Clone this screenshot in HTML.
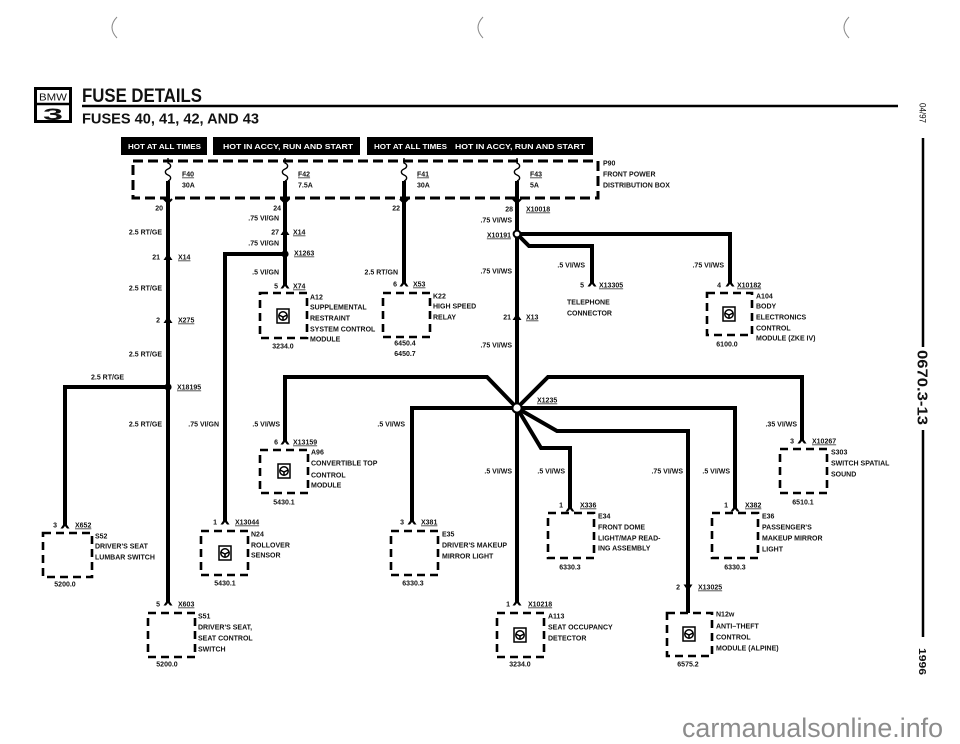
<!DOCTYPE html>
<html><head><meta charset="utf-8"><title>Fuse Details</title>
<style>
html,body{margin:0;padding:0;background:#fff;}
svg{display:block}
text{font-family:"Liberation Sans",Arial,sans-serif;font-weight:bold;font-size:7px;fill:#111}
.r{text-anchor:end}.m{text-anchor:middle}.u{text-decoration:underline}
.w{fill:none;stroke:#000;stroke-width:4;stroke-linejoin:miter;stroke-linecap:butt}
.d{fill:none;stroke:#000;stroke-width:2.6;stroke-dasharray:8 5}
.h{fill:#fff;font-size:7.5px}
.a{fill:#000}
</style></head><body>
<svg width="960" height="744" viewBox="0 0 960 744" xmlns="http://www.w3.org/2000/svg">
<!-- parentheses -->
<path d="M117,17 Q107,27.5 117,38" fill="none" stroke="#888" stroke-width="1"/>
<path d="M483,17 Q473,27.5 483,38" fill="none" stroke="#888" stroke-width="1"/>
<path d="M849,17 Q839,27.5 849,38" fill="none" stroke="#888" stroke-width="1"/>

<!-- logo -->
<rect x="35.5" y="88.5" width="35" height="33" fill="#fff" stroke="#000" stroke-width="3"/>
<line x1="35" y1="104" x2="71" y2="104" stroke="#000" stroke-width="2.5"/>
<text x="53" y="100.5" class="m" style="font-size:10px;font-weight:normal" textLength="28" lengthAdjust="spacingAndGlyphs">BMW</text>
<text x="53" y="120" class="m" style="font-size:17px;font-weight:900" textLength="20" lengthAdjust="spacingAndGlyphs">3</text>

<!-- titles -->
<text x="82" y="102" style="font-size:19.5px" textLength="120" lengthAdjust="spacingAndGlyphs">FUSE DETAILS</text>
<line x1="82" y1="106" x2="898" y2="106" stroke="#000" stroke-width="2.5"/>
<text x="82" y="123.5" style="font-size:14.5px" textLength="177" lengthAdjust="spacingAndGlyphs">FUSES 40, 41, 42, AND 43</text>

<!-- header bars -->
<rect x="121" y="137" width="86" height="18" fill="#000"/>
<rect x="213" y="137" width="147" height="18" fill="#000"/>
<rect x="367" y="137" width="226" height="18" fill="#000"/>
<text x="128" y="149" class="h" textLength="73" lengthAdjust="spacingAndGlyphs">HOT AT ALL TIMES</text>
<text x="223" y="149" class="h" textLength="130" lengthAdjust="spacingAndGlyphs">HOT IN ACCY, RUN AND START</text>
<text x="374" y="149" class="h" textLength="73" lengthAdjust="spacingAndGlyphs">HOT AT ALL TIMES</text>
<text x="455" y="149" class="h" textLength="130" lengthAdjust="spacingAndGlyphs">HOT IN ACCY, RUN AND START</text>

<!-- P90 box -->
<rect x="133" y="161" width="465" height="37" fill="none" stroke="#000" stroke-width="3" stroke-dasharray="10 5"/>

<!-- fuses -->
<g fill="none" stroke="#000" stroke-width="1.4">
<path d="M168,158 V163 c3.5,1.5 3.5,4.5 0,6 c-3.5,1.5 -3.5,4.5 0,6 c3.5,1.5 3.5,4.5 0,6"/>
<path d="M285,158 V163 c3.5,1.5 3.5,4.5 0,6 c-3.5,1.5 -3.5,4.5 0,6 c3.5,1.5 3.5,4.5 0,6"/>
<path d="M404,158 V163 c3.5,1.5 3.5,4.5 0,6 c-3.5,1.5 -3.5,4.5 0,6 c3.5,1.5 3.5,4.5 0,6"/>
<path d="M517,158 V163 c3.5,1.5 3.5,4.5 0,6 c-3.5,1.5 -3.5,4.5 0,6 c3.5,1.5 3.5,4.5 0,6"/>
</g>
<g fill="none" stroke="#000" stroke-width="2">
<path d="M164,199 L168,203 L172,199"/>
<path d="M281,199 L285,203 L289,199"/>
<path d="M400,199 L404,203 L408,199"/>
<path d="M513,199 L517,203 L521,199"/>
</g>

<!-- wires -->
<path class="w" d="M168,181 V602"/>
<path class="w" d="M168,387 H65 V525"/>
<path class="w" d="M285,181 V285"/>
<path class="w" d="M285,254 H225 V521"/>
<path class="w" d="M404,181 V283"/>
<path class="w" d="M517,181 V602"/>
<path class="w" d="M517,234 H730 V283"/>
<path class="w" d="M517,234 L529,246 H592 V283"/>
<path class="w" d="M517,408 L548,377 H802 V440"/>
<path class="w" d="M517,408 L487,377 H285 V441"/>
<path class="w" d="M517,408 H412 V521"/>
<path class="w" d="M517,408 H735 V508"/>
<path class="w" d="M517,408 L557,431 H688 V613"/>
<path class="w" d="M517,408 L541,448 H570 V508"/>

<!-- junctions -->
<circle cx="168" cy="387" r="3.6" fill="#000"/>
<circle cx="285" cy="254" r="3.6" fill="#000"/>
<circle cx="517" cy="234" r="3.4" fill="#fff" stroke="#000" stroke-width="2"/>
<circle cx="517" cy="408" r="4.6" fill="#fff" stroke="#000" stroke-width="2"/>

<!-- connector arrows (up) -->
<g class="a">
<polygon points="168,253.5 172.5,260 170,260 168,257.5 166,260 163.5,260"/>
<polygon points="168,316.5 172.5,323 170,323 168,320.5 166,323 163.5,323"/>
<polygon points="285,228.5 289.5,235 287,235 285,232.5 283,235 280.5,235"/>
<polygon points="517,313.5 521.5,320 519,320 517,317.5 515,320 512.5,320"/>
<polygon points="65,522 69.5,528.5 67,528.5 65,526 63,528.5 60.5,528.5"/>
<polygon points="168,599 172.5,605.5 170,605.5 168,603 166,605.5 163.5,605.5"/>
<polygon points="285,282 289.5,288.5 287,288.5 285,286 283,288.5 280.5,288.5"/>
<polygon points="225,518 229.5,524.5 227,524.5 225,522 223,524.5 220.5,524.5"/>
<polygon points="404,280 408.5,286.5 406,286.5 404,284 402,286.5 399.5,286.5"/>
<polygon points="517,599 521.5,605.5 519,605.5 517,603 515,605.5 512.5,605.5"/>
<polygon points="730,280 734.5,286.5 732,286.5 730,284 728,286.5 725.5,286.5"/>
<polygon points="592,280 596.5,286.5 594,286.5 592,284 590,286.5 587.5,286.5"/>
<polygon points="802,437 806.5,443.5 804,443.5 802,441 800,443.5 797.5,443.5"/>
<polygon points="285,438 289.5,444.5 287,444.5 285,442 283,444.5 280.5,444.5"/>
<polygon points="412,518 416.5,524.5 414,524.5 412,522 410,524.5 407.5,524.5"/>
<polygon points="735,505 739.5,511.5 737,511.5 735,509 733,511.5 730.5,511.5"/>
<polygon points="570,505 574.5,511.5 572,511.5 570,509 568,511.5 565.5,511.5"/>
<!-- down arrow -->
<polygon points="688,591 692.5,584.5 690,584.5 688,587 686,584.5 683.5,584.5"/>
</g>

<!-- component boxes -->
<rect class="d" x="260" y="293" width="47" height="45"/>
<rect class="d" x="383" y="293" width="47" height="44"/>
<rect class="d" x="707" y="293" width="45" height="42"/>
<rect class="d" x="43" y="533" width="49" height="44"/>
<rect class="d" x="201" y="531" width="47" height="44"/>
<rect class="d" x="260" y="450" width="48" height="43"/>
<rect class="d" x="391" y="531" width="47" height="44"/>
<rect class="d" x="548" y="513" width="46" height="45"/>
<rect class="d" x="712" y="513" width="46" height="45"/>
<rect class="d" x="780" y="449" width="47" height="44"/>
<rect class="d" x="148" y="613" width="47" height="44"/>
<rect class="d" x="497" y="613" width="47" height="44"/>
<rect class="d" x="667" y="613" width="45" height="43"/>

<!-- icons -->
<g fill="none" stroke="#000" stroke-width="1.5">
<g transform="translate(283,316)"><rect x="-6" y="-7" width="12" height="14" fill="#fff"/><circle r="4.2"/><path d="M-4,-1 L0,1 L4,-1 M0,1 V4"/></g>
<g transform="translate(729,314)"><rect x="-6" y="-7" width="12" height="14" fill="#fff"/><circle r="4.2"/><path d="M-4,-1 L0,1 L4,-1 M0,1 V4"/></g>
<g transform="translate(284,471)"><rect x="-6" y="-7" width="12" height="14" fill="#fff"/><circle r="4.2"/><path d="M-4,-1 L0,1 L4,-1 M0,1 V4"/></g>
<g transform="translate(225,553)"><rect x="-6" y="-7" width="12" height="14" fill="#fff"/><circle r="4.2"/><path d="M-4,-1 L0,1 L4,-1 M0,1 V4"/></g>
<g transform="translate(520,635)"><rect x="-6" y="-7" width="12" height="14" fill="#fff"/><circle r="4.2"/><path d="M-4,-1 L0,1 L4,-1 M0,1 V4"/></g>
<g transform="translate(689,634)"><rect x="-6" y="-7" width="12" height="14" fill="#fff"/><circle r="4.2"/><path d="M-4,-1 L0,1 L4,-1 M0,1 V4"/></g>
</g>

<!-- fuse labels -->
<text x="182" y="176.5" class="u">F40</text><text x="182" y="187.5">30A</text>
<text x="298" y="176.5" class="u">F42</text><text x="298" y="187.5">7.5A</text>
<text x="417" y="176.5" class="u">F41</text><text x="417" y="187.5">30A</text>
<text x="530" y="176.5" class="u">F43</text><text x="530" y="187.5">5A</text>
<text x="603" y="165.5">P90</text>
<text x="603" y="176.5">FRONT POWER</text>
<text x="603" y="187.5">DISTRIBUTION BOX</text>

<!-- F40 column -->
<text x="163" y="210.5" class="r">20</text>
<text x="162" y="234.5" class="r">2.5 RT/GE</text>
<text x="160" y="259.5" class="r">21</text><text x="178" y="259.5" class="u">X14</text>
<text x="162" y="290.5" class="r">2.5 RT/GE</text>
<text x="160" y="322.5" class="r">2</text><text x="178" y="322.5" class="u">X275</text>
<text x="162" y="356.5" class="r">2.5 RT/GE</text>
<text x="91" y="379.5">2.5 RT/GE</text>
<text x="177" y="389.5" class="u">X18195</text>
<text x="162" y="426.5" class="r">2.5 RT/GE</text>
<text x="160" y="606.5" class="r">5</text><text x="178" y="606.5" class="u">X603</text>

<!-- F42 column -->
<text x="281" y="210.5" class="r">24</text>
<text x="279" y="220.5" class="r">.75 VI/GN</text>
<text x="279" y="234.5" class="r">27</text><text x="293" y="234.5" class="u">X14</text>
<text x="279" y="245.5" class="r">.75 VI/GN</text>
<text x="294" y="255.5" class="u">X1263</text>
<text x="279" y="274.5" class="r">.5 VI/GN</text>
<text x="278" y="288.5" class="r">5</text><text x="293" y="288.5" class="u">X74</text>
<text x="310" y="299.5">A12</text>
<text x="310" y="309.5">SUPPLEMENTAL</text>
<text x="310" y="320.5">RESTRAINT</text>
<text x="310" y="331.5">SYSTEM CONTROL</text>
<text x="310" y="341.5">MODULE</text>
<text x="283" y="348.5" class="m">3234.0</text>

<!-- N24 branch -->
<text x="219" y="426.5" class="r">.75 VI/GN</text>
<text x="217" y="524.5" class="r">1</text><text x="235" y="524.5" class="u">X13044</text>
<text x="251" y="536.5">N24</text>
<text x="251" y="547.5">ROLLOVER</text>
<text x="251" y="557.5">SENSOR</text>
<text x="225" y="585.5" class="m">5430.1</text>

<!-- F41 -->
<text x="400" y="210.5" class="r">22</text>
<text x="398" y="274.5" class="r">2.5 RT/GN</text>
<text x="397" y="286.5" class="r">6</text><text x="413" y="286.5" class="u">X53</text>
<text x="433" y="298.5">K22</text>
<text x="433" y="308.5">HIGH SPEED</text>
<text x="433" y="319.5">RELAY</text>
<text x="405" y="345.5" class="m">6450.4</text>
<text x="405" y="356" class="m">6450.7</text>

<!-- F43 -->
<text x="513" y="211.5" class="r">28</text><text x="526" y="211.5" class="u">X10018</text>
<text x="512" y="222.5" class="r">.75 VI/WS</text>
<text x="511" y="237.5" class="r u">X10191</text>
<text x="512" y="273.5" class="r">.75 VI/WS</text>
<text x="511" y="319.5" class="r">21</text><text x="526" y="319.5" class="u">X13</text>
<text x="512" y="347.5" class="r">.75 VI/WS</text>
<text x="537" y="402.5" class="u">X1235</text>
<text x="512" y="473.5" class="r">.5 VI/WS</text>
<text x="510" y="606.5" class="r">1</text><text x="528" y="606.5" class="u">X10218</text>
<text x="548" y="618.5">A113</text>
<text x="548" y="629.5">SEAT OCCUPANCY</text>
<text x="548" y="640.5">DETECTOR</text>
<text x="520" y="666.5" class="m">3234.0</text>

<!-- telephone -->
<text x="585" y="267.5" class="r">.5 VI/WS</text>
<text x="584" y="287.5" class="r">5</text><text x="599" y="287.5" class="u">X13305</text>
<text x="567" y="304.5">TELEPHONE</text>
<text x="567" y="315.5">CONNECTOR</text>

<!-- A104 -->
<text x="724" y="267.5" class="r">.75 VI/WS</text>
<text x="721" y="287.5" class="r">4</text><text x="737" y="287.5" class="u">X10182</text>
<text x="756" y="298.5">A104</text>
<text x="756" y="308.5">BODY</text>
<text x="756" y="319.5">ELECTRONICS</text>
<text x="756" y="330.5">CONTROL</text>
<text x="756" y="340.5">MODULE (ZKE IV)</text>
<text x="727" y="346.5" class="m">6100.0</text>

<!-- S303 -->
<text x="797" y="426.5" class="r">.35 VI/WS</text>
<text x="794" y="443.5" class="r">3</text><text x="812" y="443.5" class="u">X10267</text>
<text x="831" y="454.5">S303</text>
<text x="831" y="465.5">SWITCH SPATIAL</text>
<text x="831" y="476.5">SOUND</text>
<text x="803" y="504.5" class="m">6510.1</text>

<!-- A96 -->
<text x="280" y="426.5" class="r">.5 VI/WS</text>
<text x="278" y="444.5" class="r">6</text><text x="293" y="444.5" class="u">X13159</text>
<text x="311" y="454.5">A96</text>
<text x="311" y="465.5">CONVERTIBLE TOP</text>
<text x="311" y="477.5">CONTROL</text>
<text x="311" y="487.5">MODULE</text>
<text x="284" y="504.5" class="m">5430.1</text>

<!-- E35 -->
<text x="405" y="426.5" class="r">.5 VI/WS</text>
<text x="404" y="524.5" class="r">3</text><text x="421" y="524.5" class="u">X381</text>
<text x="442" y="536.5">E35</text>
<text x="442" y="547.5">DRIVER'S MAKEUP</text>
<text x="442" y="558.5">MIRROR LIGHT</text>
<text x="413" y="585.5" class="m">6330.3</text>

<!-- E34 -->
<text x="565" y="473.5" class="r">.5 VI/WS</text>
<text x="563" y="507.5" class="r">1</text><text x="580" y="507.5" class="u">X336</text>
<text x="598" y="518.5">E34</text>
<text x="598" y="529.5">FRONT DOME</text>
<text x="598" y="540.5">LIGHT/MAP READ-</text>
<text x="598" y="550.5">ING ASSEMBLY</text>
<text x="570" y="569.5" class="m">6330.3</text>

<!-- N12w -->
<text x="683" y="473.5" class="r">.75 VI/WS</text>
<text x="680" y="589.5" class="r">2</text><text x="698" y="589.5" class="u">X13025</text>
<text x="716" y="616.5">N12w</text>
<text x="716" y="628.5">ANTI–THEFT</text>
<text x="716" y="639.5">CONTROL</text>
<text x="716" y="650.5">MODULE (ALPINE)</text>
<text x="688" y="666.5" class="m">6575.2</text>

<!-- E36 -->
<text x="730" y="473.5" class="r">.5 VI/WS</text>
<text x="728" y="507.5" class="r">1</text><text x="745" y="507.5" class="u">X382</text>
<text x="762" y="518.5">E36</text>
<text x="762" y="529.5">PASSENGER'S</text>
<text x="762" y="540.5">MAKEUP MIRROR</text>
<text x="762" y="551.5">LIGHT</text>
<text x="735" y="569.5" class="m">6330.3</text>

<!-- S52 -->
<text x="57" y="527.5" class="r">3</text><text x="75" y="527.5" class="u">X652</text>
<text x="95" y="538.5">S52</text>
<text x="95" y="548.5">DRIVER'S SEAT</text>
<text x="95" y="559.5">LUMBAR SWITCH</text>
<text x="65" y="586.5" class="m">5200.0</text>

<!-- S51 -->
<text x="198" y="618.5">S51</text>
<text x="198" y="629.5">DRIVER'S SEAT,</text>
<text x="198" y="640.5">SEAT CONTROL</text>
<text x="198" y="651.5">SWITCH</text>
<text x="167" y="666.5" class="m">5200.0</text>

<!-- right margin -->
<line x1="923" y1="138" x2="923" y2="347" stroke="#000" stroke-width="2.5"/>
<line x1="923" y1="430" x2="923" y2="637" stroke="#000" stroke-width="2.5"/>
<text transform="translate(919.5,103) rotate(90)" style="font-size:9px;font-weight:normal" textLength="20" lengthAdjust="spacingAndGlyphs">04/97</text>
<text transform="translate(917.5,350) rotate(90)" style="font-size:15px" textLength="75" lengthAdjust="spacingAndGlyphs">0670.3-13</text>
<text transform="translate(919,648) rotate(90)" style="font-size:10px" textLength="27" lengthAdjust="spacingAndGlyphs">1996</text>

<!-- watermark -->
<text x="682" y="737" style="font-size:27px;font-weight:normal;fill:#8c8c8c" textLength="261" lengthAdjust="spacingAndGlyphs">carmanualsonline.info</text>
</svg>
</body></html>
